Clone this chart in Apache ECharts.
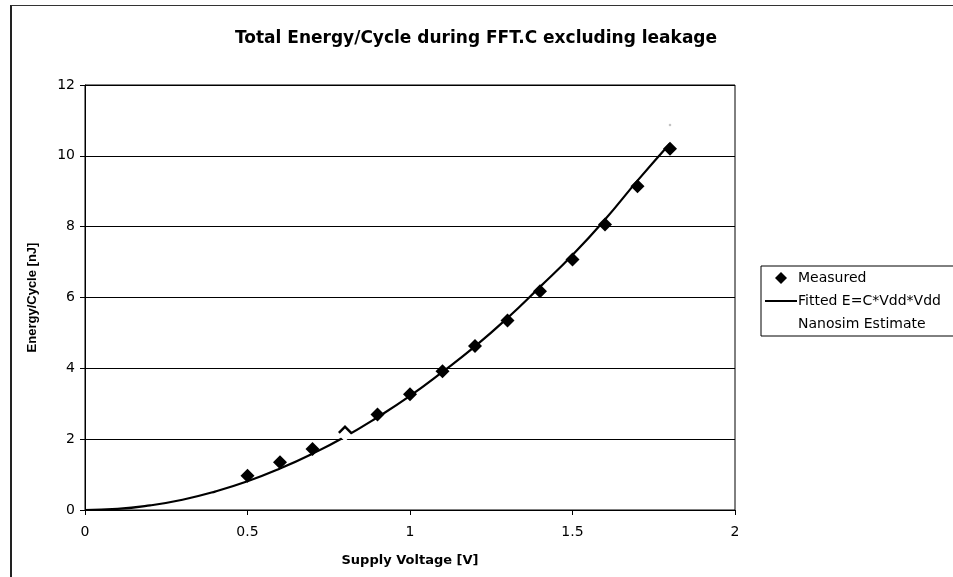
<!DOCTYPE html>
<html>
<head>
<meta charset="utf-8">
<script src="https://cdn.jsdelivr.net/npm/echarts@6/dist/echarts.min.js"></script>
<style>
  html, body { margin: 0; padding: 0; background: #fff; }
  #wrap { position: relative; width: 953px; height: 577px; overflow: hidden; }
  #frame { position: absolute; left: 10px; top: 5px; width: 1200px; height: 800px;
           border-left: 2px solid #222; border-top: 1px solid #333; }
  #chart { position: absolute; left: 0; top: 0; width: 953px; height: 577px; }
</style>
</head>
<body>
<div id="wrap">
  <div id="frame"></div>
  <div id="chart"></div>
</div>
<script>
// measured points (Vdd in V, energy in nJ)
const measuredV = [0.5, 0.6, 0.7, 0.8, 0.9, 1.0, 1.1, 1.2, 1.3, 1.4, 1.5, 1.6, 1.7, 1.8];
const measuredE = [0.97, 1.35, 1.72, 2.2, 2.7, 3.27, 3.92, 4.63, 5.35, 6.18, 7.07, 8.06, 9.14, 10.2];

// fitted curve E = C*Vdd*Vdd
const fittedV = [0, 0.1, 0.2, 0.3, 0.4, 0.5, 0.6, 0.7, 0.8, 0.9, 1.0, 1.1, 1.2, 1.3, 1.4, 1.5, 1.6, 1.7, 1.8];
const fittedE = [0, 0.03, 0.13, 0.29, 0.52, 0.81, 1.17, 1.59, 2.07, 2.62, 3.22, 3.9, 4.62, 5.42, 6.3, 7.2, 8.2, 9.3, 10.35];

// nanosim estimate (white markers, barely visible)
const nanosimV = [0.8, 1.8];
const nanosimE = [2.12, 10.87];

const xTicks = [0, 0.5, 1, 1.5, 2];
const yTicks = [0, 2, 4, 6, 8, 10, 12];

const zip = (a, b) => a.map((v, i) => [v, b[i]]);

const chart = echarts.init(document.getElementById('chart'), null, { renderer: 'canvas' });

// the scan is stretched sideways, so the wider DejaVu face fits the horizontal text better
const wide = '"DejaVu Sans", Verdana, sans-serif';
const narrow = '"Liberation Sans", Arial, sans-serif';

const diamondIcon = 'path://M5,0L10,5L5,10L0,5Z';

chart.setOption({
    animation: false,
    backgroundColor: 'transparent',
    title: {
        text: 'Total Energy/Cycle during FFT.C excluding leakage',
        left: 471,
        top: 25,
        textAlign: 'center',
        textStyle: { fontFamily: wide, fontSize: 17, fontWeight: 'bold', color: '#000' }
    },
    legend: {
        orient: 'vertical',
        left: 761,
        top: 266,
        padding: [5, 30, 5, 3],
        itemWidth: 32,
        itemHeight: 12,
        itemGap: 9,
        borderColor: '#000',
        borderWidth: 1,
        backgroundColor: '#fff',
        textStyle: { fontFamily: wide, fontSize: 14, color: '#000', padding: [0, 0, 0, -4] },
        data: [
            { name: 'Measured', icon: diamondIcon, itemStyle: { color: '#000' } },
            {
                name: 'Fitted E=C*Vdd*Vdd',
                itemStyle: { color: 'rgba(0,0,0,0)', borderColor: 'rgba(0,0,0,0)', borderWidth: 0 },
                lineStyle: { color: '#000', width: 2 }
            },
            { name: 'Nanosim Estimate', icon: diamondIcon, itemStyle: { color: '#fff' } }
        ]
    },
    grid: {
        left: 85, right: 218, top: 85, bottom: 67,
        show: true,
        borderColor: '#000',
        borderWidth: 1,
        backgroundColor: '#fff'
    },
    xAxis: {
        type: 'value',
        min: xTicks[0],
        max: xTicks[xTicks.length - 1],
        interval: 0.5,
        name: 'Supply Voltage [V]',
        nameLocation: 'middle',
        nameGap: 44,
        nameTextStyle: { fontFamily: wide, fontSize: 13, fontWeight: 'bold', color: '#000' },
        axisLine: { lineStyle: { color: '#000', width: 1 } },
        axisTick: { show: true, inside: false, length: 5, lineStyle: { color: '#000' } },
        axisLabel: { fontFamily: wide, fontSize: 14, color: '#000', margin: 15 },
        splitLine: { show: false }
    },
    yAxis: {
        type: 'value',
        min: yTicks[0],
        max: yTicks[yTicks.length - 1],
        interval: 2,
        name: 'Energy/Cycle [nJ]',
        nameLocation: 'middle',
        nameGap: 46,
        nameRotate: 90,
        nameTextStyle: { fontFamily: narrow, fontSize: 13, fontWeight: 'bold', color: '#000' },
        axisLine: { show: true, lineStyle: { color: '#000', width: 1 } },
        axisTick: { show: true, inside: false, length: 5, lineStyle: { color: '#000' } },
        axisLabel: { fontFamily: wide, fontSize: 14, color: '#000', margin: 10 },
        splitLine: { show: true, lineStyle: { color: '#000', width: 1 } }
    },
    series: [
        {
            name: 'Fitted E=C*Vdd*Vdd',
            type: 'line',
            data: zip(fittedV, fittedE),
            smooth: true,
            symbol: 'none',
            lineStyle: { color: '#000', width: 2.2 },
            itemStyle: { color: '#000' },
            z: 2
        },
        {
            name: 'Measured',
            type: 'scatter',
            data: zip(measuredV, measuredE),
            symbol: 'diamond',
            symbolSize: 14,
            itemStyle: { color: '#000', opacity: 1 },
            z: 3
        },
        {
            name: 'Nanosim Estimate',
            type: 'scatter',
            data: zip(nanosimV, nanosimE),
            symbol: 'diamond',
            // first marker hides most of the 0.8 V diamond, second is a faint speck
            symbolSize: function (val, params) { return params.dataIndex === 0 ? 13 : 3; },
            itemStyle: {
                color: function (params) { return params.dataIndex === 0 ? '#fff' : '#bbb'; },
                opacity: 1
            },
            z: 4
        }
    ]
});
</script>
</body>
</html>
